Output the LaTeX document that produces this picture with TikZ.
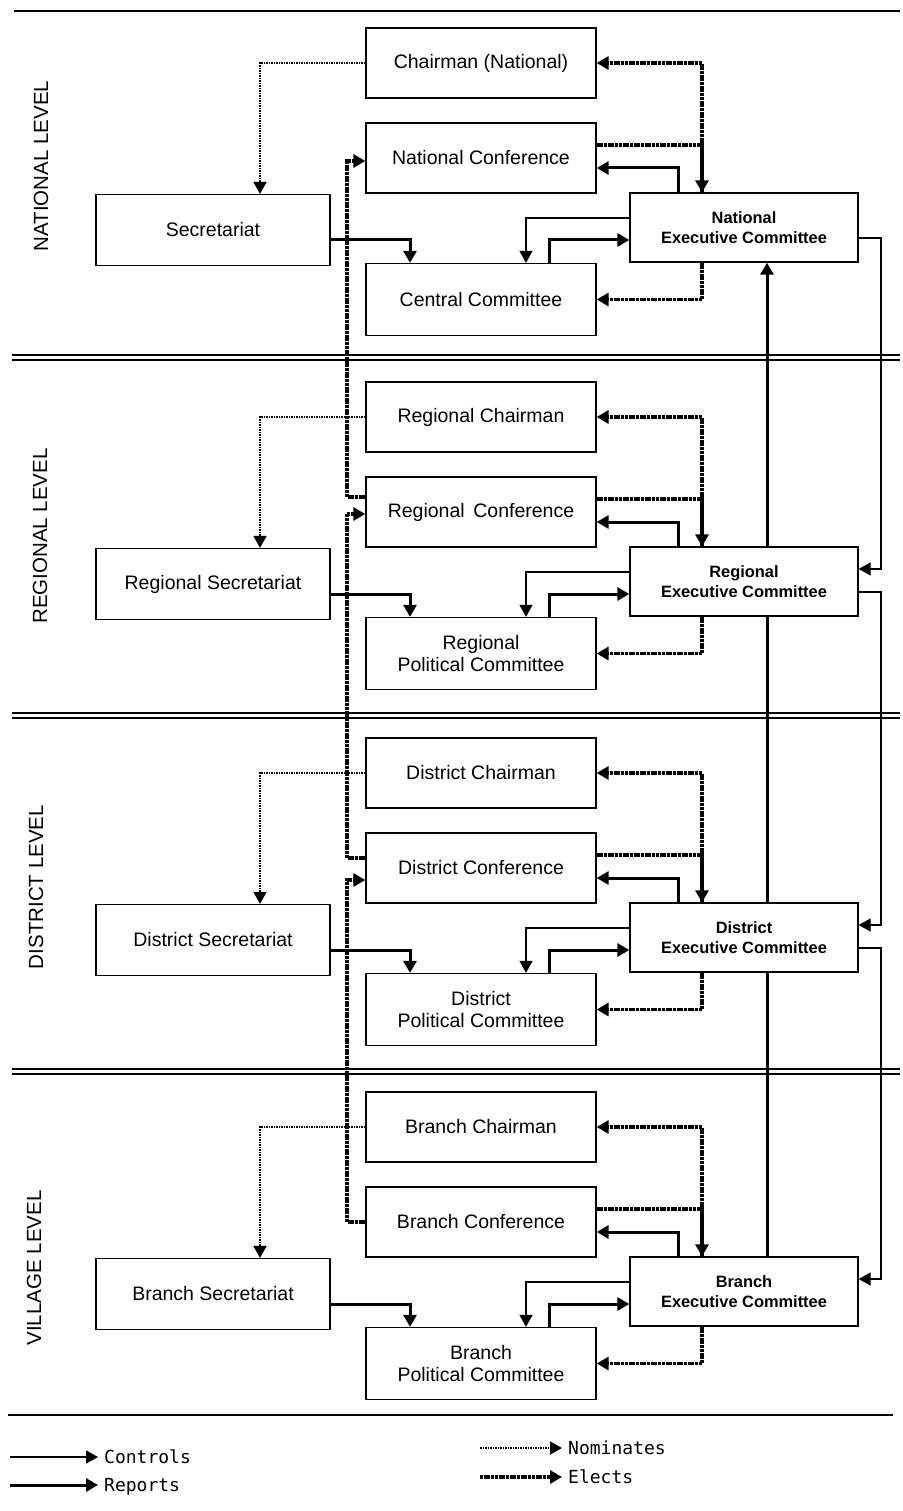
\documentclass[tikz,border=0pt]{standalone}
\usepackage{fontspec}
\setmainfont{Liberation Sans}
\newfontfamily\legendfont{DejaVu Sans Mono}
\usetikzlibrary{arrows.meta,calc}
\begin{document}
\begin{tikzpicture}[x=1pt,y=-1pt,
  >={Triangle[length=12pt,width=13pt]},
  box/.style={draw, line width=1.3pt, fill=white, inner sep=0pt, align=center,
    font=\fontsize{19.5}{22}\selectfont},
  midbox/.style={box, minimum width=230pt, minimum height=70pt},
  pcbox/.style={box, minimum width=230pt, minimum height=72pt},
  secbox/.style={box, minimum width=234pt, minimum height=71pt},
  exbox/.style={box, minimum width=228pt, minimum height=69pt,
    font=\bfseries\fontsize{16.4}{20}\selectfont},
  ctlline/.style={line width=1.2pt, ->},
  repline/.style={line width=3pt, ->},
  repplain/.style={line width=3pt},
  nomline/.style={line width=1.9pt, dash pattern=on 1.7pt off 0.8pt, ->},
  eleline/.style={line width=3.6pt, dash pattern=on 3pt off 0.7pt, ->},
  rule/.style={line width=1.4pt},
  levellabel/.style={rotate=90, font=\fontsize{20.5}{24}\selectfont},
  legendtext/.style={anchor=west, inner xsep=6pt, inner ysep=0pt,
    text height=12pt, text depth=0pt, font=\legendfont\fontsize{18}{20}\selectfont}
]
\useasboundingbox (0,0) rectangle (902,1511);

% ---------- horizontal rules ----------
\draw[rule] (14,11) -- (900,11);
\draw[rule] (12,355) -- (900,355);
\draw[rule] (12,360) -- (900,360);
\draw[rule] (12,713) -- (900,713);
\draw[rule] (12,718) -- (900,718);
\draw[rule] (12,1069) -- (900,1069);
\draw[rule] (12,1074) -- (900,1074);
\draw[rule] (8,1415) -- (893,1415);

% ---------- level labels ----------
\node[levellabel] (lvN) at (41,166) {NATIONAL LEVEL};
\node[levellabel] (lvR) at (40,536) {REGIONAL LEVEL};
\node[levellabel] (lvD) at (36,887) {DISTRICT LEVEL};
\node[levellabel] (lvB) at (34,1268) {VILLAGE LEVEL};

% ---------- national level ----------
\node[midbox] (chN) at (481,63)    {Chairman (National)};
\node[midbox] (cfN) at (481,158)   {National Conference};
\node[secbox] (scN) at (213,230)   {Secretariat};
\node[pcbox]  (pcN) at (481,299.5) {Central Committee};
\node[exbox]  (exN) at (744,227.5) {National\\Executive Committee};

% ---------- regional level ----------
\node[midbox] (chR) at (481,417)   {Regional Chairman};
\node[midbox] (cfR) at (481,512)   {Regional\, Conference};
\node[secbox] (scR) at (213,584)   {Regional Secretariat};
\node[pcbox]  (pcR) at (481,653.5) {Regional\\Political Committee};
\node[exbox]  (exR) at (744,581.5) {Regional\\Executive Committee};

% ---------- district level ----------
\node[midbox] (chD) at (481,773)    {District Chairman};
\node[midbox] (cfD) at (481,868)    {District Conference};
\node[secbox] (scD) at (213,940)    {District Secretariat};
\node[pcbox]  (pcD) at (481,1009.5) {District\\Political Committee};
\node[exbox]  (exD) at (744,937.5)  {District\\Executive Committee};

% ---------- branch level ----------
\node[midbox] (chB) at (481,1127)   {Branch Chairman};
\node[midbox] (cfB) at (481,1222)   {Branch Conference};
\node[secbox] (scB) at (213,1294)   {Branch Secretariat};
\node[pcbox]  (pcB) at (481,1363.5) {Branch\\Political Committee};
\node[exbox]  (exB) at (744,1291.5) {Branch\\Executive Committee};

% ---------- vertical tracks ----------
\coordinate (xnom) at (260,0);
\coordinate (xsp)  at (410,0);
\coordinate (xctl) at (526,0);
\coordinate (xpr)  at (549,0);
\coordinate (xrep) at (678,0);
\coordinate (xel)  at (702,0);
\coordinate (xup)  at (767,0);
\coordinate (xrt)  at (881,0);
\coordinate (xcf)  at (347,0);

% ---------- connectors inside each level ----------
\foreach \s in {N,R,D,B}{
  % chairman nominates the secretariat
  \draw[nomline] (ch\s.west) -| (xnom |- sc\s.north);
  % conference elects the executive committee
  \draw[eleline] ($(cf\s.east)+(0,-13)$) -| (xel |- ex\s.north);
  % executive committee elects the chairman
  \draw[eleline] (xel |- ex\s.north) |- (ch\s.east);
  % executive committee reports to the conference
  \draw[repline] (xrep |- ex\s.north) |- ($(cf\s.east)+(0,10)$);
  % executive committee controls the political committee
  \draw[ctlline] ($(ex\s.west)+(0,-9.5)$) -| (xctl |- pc\s.north);
  % political committee reports to the executive committee
  \draw[repline] (xpr |- pc\s.north) |- ($(ex\s.west)+(0,12.5)$);
  % secretariat reports to the political committee
  \draw[repline] ($(sc\s.east)+(0,10)$) -| (xsp |- pc\s.north);
  % executive committee elects the political committee
  \draw[eleline] (xel |- ex\s.south) |- (pc\s.east);
}

% ---------- controls down the right side ----------
\foreach \a/\b in {N/R,R/D,D/B}{
  \coordinate (out\a) at ($(ex\a.east)+(0,10.5)$);
  \coordinate (in\b)  at ($(ex\b.east)+(0,-12.5)$);
  \draw[ctlline] (out\a) -| (xrt |- in\b) -- (in\b);
}

% ---------- reports up the executive committees ----------
\draw[repplain] (xup |- exB.north) -- (xup |- exD.south);
\draw[repplain] (xup |- exD.north) -- (xup |- exR.south);
\draw[repline]  (xup |- exR.north) -- (xup |- exN.south);

% ---------- conferences elect upwards ----------
\coordinate (cfBout) at (cfB.west);
\coordinate (cfDin)  at ($(cfD.west)+(0,12)$);
\coordinate (cfDout) at ($(cfD.west)+(0,-10)$);
\coordinate (cfRin)  at ($(cfR.west)+(0,2)$);
\coordinate (cfRout) at ($(cfR.west)+(0,-15)$);
\coordinate (cfNin)  at ($(cfN.west)+(0,3)$);
\draw[eleline] (cfBout) -| (xcf |- cfDin) -- (cfDin);
\draw[eleline] (cfDout) -| (xcf |- cfRin) -- (cfRin);
\draw[eleline] (cfRout) -| (xcf |- cfNin) -- (cfNin);

% ---------- legend ----------
\node[legendtext] (tCon) at (98,1457)  {Controls};
\node[legendtext] (tRep) at (98,1485)  {Reports};
\node[legendtext] (tNom) at (562,1448) {Nominates};
\node[legendtext] (tEle) at (562,1477) {Elects};
\coordinate (lCon) at (10,1457);
\coordinate (lRep) at (10,1485);
\coordinate (lNom) at (480,1448);
\coordinate (lEle) at (480,1477);
\draw[ctlline] (lCon) -- (tCon.west);
\draw[repline] (lRep) -- (tRep.west);
\draw[nomline] (lNom) -- (tNom.west);
\draw[eleline] (lEle) -- (tEle.west);
\end{tikzpicture}
\end{document}
